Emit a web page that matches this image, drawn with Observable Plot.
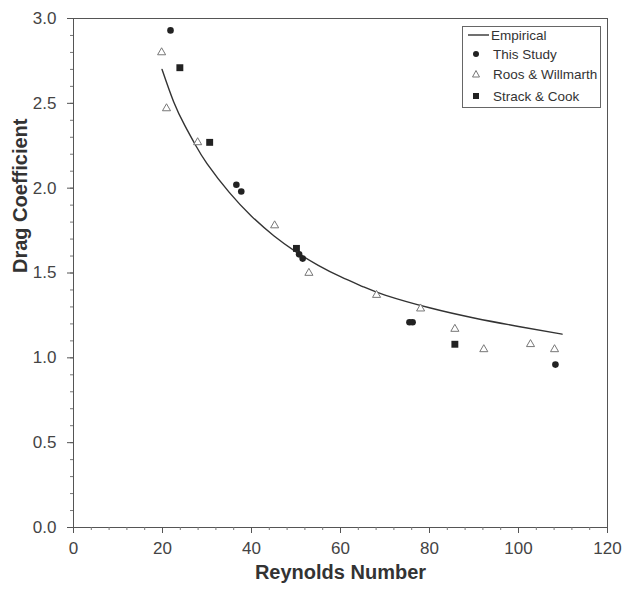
<!DOCTYPE html>
<html>
<head>
<meta charset="utf-8">
<script src="https://cdn.jsdelivr.net/npm/d3@7"></script>
<script src="https://cdn.jsdelivr.net/npm/@observablehq/plot@0.6"></script>
<style>
  html, body { margin: 0; padding: 0; background: #fff; }
  #wrap { position: relative; width: 625px; height: 590px; font-family: "Liberation Sans", Arial, sans-serif; }
  #legend { position: absolute; left: 462px; top: 26px; width: 139px; height: 82px; border: 1px solid #666; background: #fff; box-sizing: border-box; }
  #legend .row { position: absolute; left: 0; height: 20px; display: flex; align-items: center; font-size: 13.5px; color: #333; }
  #legend svg { flex: none; }
</style>
</head>
<body>
<div id="wrap"></div>
<script>
// Empirical curve
const empRe = [19.9, 22.5, 25, 27.5, 30, 35, 40, 45, 50, 55, 60, 65, 70, 80, 90, 100, 109.8];
const empCd = [2.70, 2.51, 2.37, 2.25, 2.145, 1.975, 1.835, 1.72, 1.625, 1.545, 1.478, 1.42, 1.37, 1.295, 1.235, 1.185, 1.14];

// This Study
const thisRe = [21.8, 36.6, 37.7, 50.7, 51.5, 75.5, 76.2, 108.3];
const thisCd = [2.93, 2.02, 1.98, 1.61, 1.585, 1.21, 1.21, 0.96];

// Roos & Willmarth
const roosRe = [19.8, 20.9, 27.9, 45.2, 52.9, 68.1, 78.0, 85.7, 92.2, 102.7, 108.1];
const roosCd = [2.80, 2.47, 2.27, 1.78, 1.50, 1.37, 1.29, 1.17, 1.05, 1.08, 1.05];

// Strack & Cook
const strackRe = [23.9, 30.6, 50.1, 85.7];
const strackCd = [2.71, 2.27, 1.645, 1.08];

const xMajor = [0, 20, 40, 60, 80, 100, 120];
const yMajor = [0.0, 0.5, 1.0, 1.5, 2.0, 2.5, 3.0];
const xMinor = d3.range(0, 121, 4);
const yMinor = d3.range(0, 31, 1).map(d => d / 10);

const legendLabels = ["Empirical", "This Study", "Roos & Willmarth", "Strack & Cook"];

const emp = empRe.map((x, i) => ({x, y: empCd[i]}));
const ts = thisRe.map((x, i) => ({x, y: thisCd[i]}));
const rw = roosRe.map((x, i) => ({x, y: roosCd[i]}));
const sc = strackRe.map((x, i) => ({x, y: strackCd[i]}));

const chart = Plot.plot({
  width: 625,
  height: 590,
  marginLeft: 73,
  marginRight: 18,
  marginTop: 18,
  marginBottom: 63,
  style: {fontFamily: "Liberation Sans, Arial, sans-serif", color: "#444", background: "#fff"},
  x: {domain: [0, 120]},
  y: {domain: [0, 3]},
  marks: [
    Plot.frame({stroke: "#555"}),
    Plot.axisX({ticks: xMinor, tickSize: 3, text: null, label: null, stroke: "#777"}),
    Plot.axisX({ticks: xMajor, tickSize: 6, tickPadding: 8, fontSize: 17, label: null, stroke: "#555", tickFormat: d3.format("d")}),
    Plot.axisY({ticks: yMinor, tickSize: 3, text: null, label: null, stroke: "#777"}),
    Plot.axisY({ticks: yMajor, tickSize: 6, tickPadding: 11, fontSize: 17, label: null, stroke: "#555", tickFormat: d3.format(".1f")}),
    Plot.text(["Reynolds Number"], {frameAnchor: "bottom", dy: 51, fontSize: 20, fontWeight: "bold", fill: "#333"}),
    Plot.text(["Drag Coefficient"], {frameAnchor: "left", dx: -53, rotate: -90, fontSize: 20, fontWeight: "bold", fill: "#333"}),
    Plot.line(emp, {x: "x", y: "y", stroke: "#333", strokeWidth: 1.4, curve: "natural"}),
    Plot.dot(rw, {x: "x", y: "y", symbol: "triangle", r: 3, stroke: "#777", strokeWidth: 1, fill: "#fff"}),
    Plot.dot(sc, {x: "x", y: "y", symbol: "square", r: 3.9, fill: "#222", stroke: "none"}),
    Plot.dot(ts, {x: "x", y: "y", symbol: "circle", r: 3.3, fill: "#222", stroke: "none"})
  ]
});

const wrap = document.getElementById("wrap");
wrap.appendChild(chart);

// Legend (HTML overlay)
const legend = document.createElement("div");
legend.id = "legend";
const symbols = [
  '<svg width="28" height="12"><line x1="5" y1="6" x2="26" y2="6" stroke="#333" stroke-width="1.4"/></svg>',
  '<svg width="30" height="12"><circle cx="13" cy="6" r="3" fill="#222"/></svg>',
  '<svg width="30" height="12"><path d="M13,2.5 L16.5,9 L9.5,9 Z" fill="#fff" stroke="#777" stroke-width="1"/></svg>',
  '<svg width="30" height="12"><rect x="10" y="3" width="6" height="6" fill="#222"/></svg>'
];
const tops = [-2, 17, 37, 59];
legendLabels.forEach((lab, i) => {
  const row = document.createElement("div");
  row.className = "row";
  row.style.top = tops[i] + "px";
  row.innerHTML = symbols[i] + '<span>' + lab.replace("&", "&amp;") + '</span>';
  legend.appendChild(row);
});
wrap.appendChild(legend);
</script>
</body>
</html>
